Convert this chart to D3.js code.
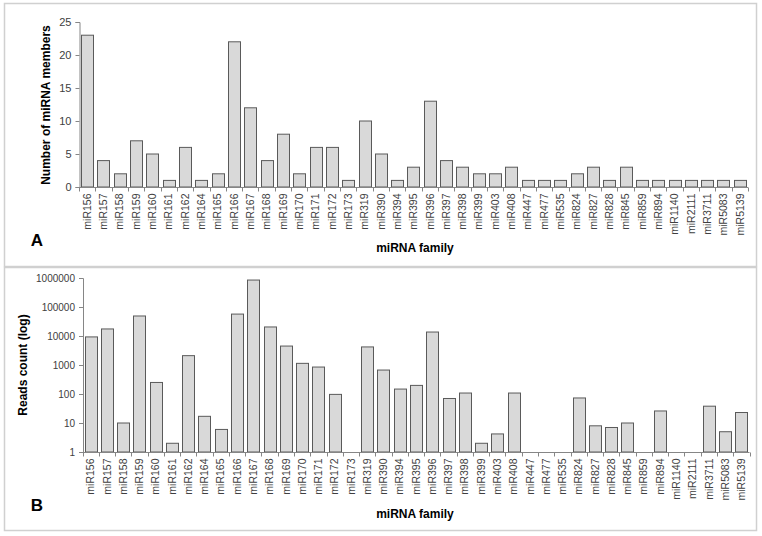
<!DOCTYPE html>
<html><head><meta charset="utf-8">
<script src="https://cdnjs.cloudflare.com/ajax/libs/d3/7.8.5/d3.min.js"></script>
<style>body{margin:0;background:#fff}svg{display:block}</style>
</head><body><svg id="c" width="762" height="536"></svg>
<script>
const families = ["miR156","miR157","miR158","miR159","miR160","miR161","miR162","miR164","miR165","miR166","miR167","miR168","miR169","miR170","miR171","miR172","miR173","miR319","miR390","miR394","miR395","miR396","miR397","miR398","miR399","miR403","miR408","miR447","miR477","miR535","miR824","miR827","miR828","miR845","miR859","miR894","miR1140","miR2111","miR3711","miR5083","miR5139"];
const memberCounts = [23,4,2,7,5,1,6,1,2,22,12,4,8,2,6,6,1,10,5,1,3,13,4,3,2,2,3,1,1,1,2,3,1,3,1,1,1,1,1,1,1];
const readCounts = [9300,17500,10,49000,250,2,2100,17,6,57000,850000,20500,4500,1140,850,97,null,4200,670,148,198,13700,70,108,2,4.2,108,null,null,null,73,8,7,10,null,26,null,null,38,5,23];
const countTicks = [0,5,10,15,20,25];
const readTicks = [1,10,100,1000,10000,100000,1000000];

const svg = d3.select("#c");
const FONT = "'Liberation Sans', Arial, sans-serif";
const AX = "#868686", TXT = "#404040";

function panel(cfg){
  svg.append("rect").attr("x",cfg.box[0]+0.5).attr("y",cfg.box[1]+0.5)
    .attr("width",cfg.box[2]).attr("height",cfg.box[3])
    .attr("fill","#fff").attr("stroke","#d0d0d0").attr("stroke-width",1.5);
  const g = svg.append("g");
  const x = d3.scaleBand().domain(families).range(cfg.xr).paddingInner(0.26).paddingOuter(0.13);
  const y = cfg.y;
  // bars
  g.selectAll("rect.bar").data(cfg.values.map((v,i)=>({f:families[i],v})).filter(d=>d.v!=null))
    .join("rect").attr("class","bar")
    .attr("x",d=>Math.round(x(d.f))+0.5).attr("width",Math.round(x.bandwidth()))
    .attr("y",d=>y(d.v)).attr("height",d=>Math.max(0,y(cfg.base)-y(d.v)))
    .attr("fill","#d9d9d9").attr("stroke","#5a5a5a").attr("stroke-width",1);
  // y axis
  const ya = g.append("g").attr("transform",`translate(${cfg.xr[0]+0.5},0)`)
    .call(d3.axisLeft(y).tickValues(cfg.ticks).tickSize(4).tickPadding(4).tickFormat(d3.format("d")));
  ya.select(".domain").attr("stroke",AX);
  ya.selectAll(".tick line").attr("stroke",AX);
  ya.selectAll(".tick text").attr("fill",TXT).attr("font-family",FONT).attr("font-size",cfg.yfs);
  // x axis line
  const yb = Math.round(y(cfg.base))+0.5;
  g.append("line").attr("x1",cfg.xr[0]).attr("x2",cfg.xr[1]).attr("y1",yb).attr("y2",yb).attr("stroke",AX);
  const step = x.step();
  const bounds = d3.range(families.length+1).map(i=>cfg.xr[0]+ (cfg.xr[1]-cfg.xr[0])*i/families.length);
  g.selectAll("line.xt").data(bounds).join("line").attr("class","xt")
    .attr("x1",d=>Math.round(d)+0.5).attr("x2",d=>Math.round(d)+0.5).attr("y1",yb).attr("y2",yb+4).attr("stroke",AX);
  g.selectAll("text.xl").data(families).join("text").attr("class","xl")
    .attr("transform",d=>`translate(${x(d)+x.bandwidth()/2},${yb+6}) rotate(-90)`)
    .attr("text-anchor","end").attr("dy","0.35em")
    .attr("font-family",FONT).attr("font-size",10.5).attr("fill",TXT).text(d=>d);
  // titles
  svg.append("text").attr("transform",`translate(${cfg.ytx},${cfg.yty}) rotate(-90)`)
    .attr("text-anchor","middle").attr("dy","0.35em").attr("font-family",FONT).attr("font-weight","bold")
    .attr("font-size",12).attr("fill","#000").text(cfg.ytitle);
  svg.append("text").attr("x",415).attr("y",cfg.xty).attr("text-anchor","middle").attr("dy","0.35em")
    .attr("font-family",FONT).attr("font-weight","bold").attr("font-size",12).attr("fill","#000").text("miRNA family");
  svg.append("text").attr("x",37).attr("y",cfg.lety).attr("text-anchor","middle").attr("dy","0.35em")
    .attr("font-family",FONT).attr("font-weight","bold").attr("font-size",17).attr("fill","#000").text(cfg.letter);
}

panel({box:[4,3,752,263], xr:[79,748], values:memberCounts, base:0,
  y:d3.scaleLinear().domain([0,25]).range([187,22]), ticks:countTicks, yfs:11,
  ytitle:"Number of miRNA members", ytx:46, yty:105, xty:248, lety:240, letter:"A"});
panel({box:[4,267,752,263], xr:[82.5,749.5], values:readCounts, base:1,
  y:d3.scaleLog().domain([1,1e6]).range([452,278]), ticks:readTicks, yfs:10,
  ytitle:"Reads count (log)", ytx:23, yty:365, xty:514, lety:505, letter:"B"});
</script></body></html>
